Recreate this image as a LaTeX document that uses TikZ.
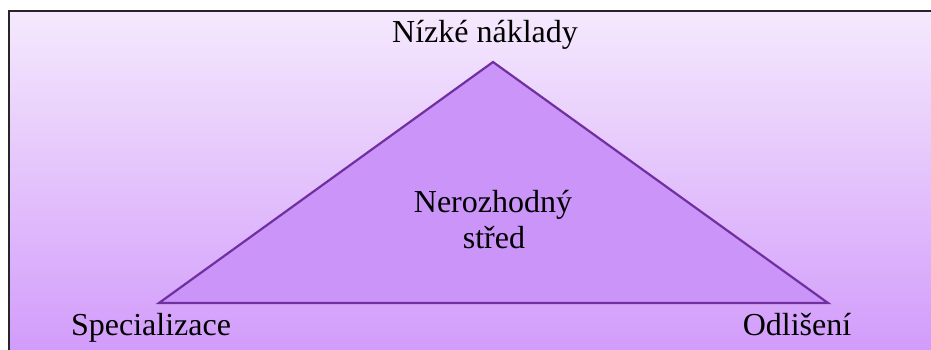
\documentclass[tikz,border=0pt]{standalone}
\usepackage{fontspec}
\setmainfont{Liberation Serif}
\newfontfamily\labelfont{Liberation Serif}
\definecolor{bgtop}{HTML}{F5E9FD}
\definecolor{bgbot}{HTML}{D29CFB}
\definecolor{trifill}{HTML}{CA94F9}
\definecolor{triline}{HTML}{7030A0}
\tikzset{
  lbl/.style={font=\labelfont\fontsize{32}{37}\selectfont, text=black, anchor=base, inner sep=0pt, align=center},
}
\begin{document}
\begin{tikzpicture}[x=1pt,y=-1pt]
  \useasboundingbox (0,0) rectangle (931,350);
  % shaded panel with frame on top and left
  \shade[top color=bgtop, bottom color=bgbot] (9,11) rectangle (931,350);
  \draw[line width=2pt, black!85] (9,352) -- (9,11) -- (933,11);
  % triangle vertices
  \coordinate (apex) at (493,62);
  \coordinate (bl) at (159,303);
  \coordinate (br) at (828,303);
  \filldraw[fill=trifill, draw=triline, line width=2.2pt, line join=miter] (apex) -- (br) -- (bl) -- cycle;
  % labels
  \node[lbl] (low) at (485,43) {Nízké náklady};
  \node[lbl] (mid1) at (493,212) {Nerozhodný};
  \node[lbl] (mid2) at (494,248) {střed};
  \node[lbl] (spec) at (151,335) {Specializace};
  \node[lbl] (diff) at (797,335) {Odlišení};
\end{tikzpicture}
\end{document}
